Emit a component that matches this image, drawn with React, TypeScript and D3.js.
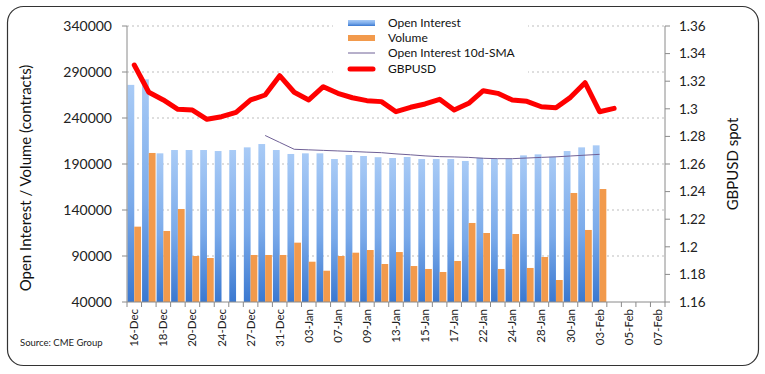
import React from 'react';
import * as d3 from 'd3';

// trading days shown on the category axis
const dates = [
  '16-Dec', '17-Dec', '18-Dec', '19-Dec', '20-Dec', '23-Dec', '24-Dec', '26-Dec', '27-Dec', '30-Dec',
  '31-Dec', '02-Jan', '03-Jan', '06-Jan', '07-Jan', '08-Jan', '09-Jan', '10-Jan', '13-Jan', '14-Jan',
  '15-Jan', '16-Jan', '17-Jan', '21-Jan', '22-Jan', '23-Jan', '24-Jan', '27-Jan', '28-Jan', '29-Jan',
  '30-Jan', '31-Jan', '03-Feb', '04-Feb', '05-Feb', '06-Feb', '07-Feb'
];

const openInterest = [
  276000, 282000, 201600, 205200, 205200, 205200, 204100, 205200, 208100, 211700,
  205200, 200900, 201600, 201600, 195400, 199800, 198700, 197400, 196500, 197600,
  195400, 195400, 195400, 193300, 196800, 195400, 195400, 199400, 200500, 197900,
  204100, 208100, 210300
];

const volume = [
  121900, 202000, 117200, 141100, 90000, 87800, 30000, 25000, 91100, 91100,
  91100, 104500, 83800, 74000, 90000, 93600, 96500, 81300, 94300, 79100,
  75900, 72600, 84600, 125900, 115000, 75900, 113900, 77000, 88900, 63900,
  158500, 118300, 162800
];

const oiSma: (number | null)[] = [
  null, null, null, null, null, null, null, null, null, 221000,
  213500, 206000, 205400, 204800, 204200, 203600, 202900, 202300, 201000, 200000,
  198800, 198000, 197700, 197200, 196200, 195800, 195800, 196500, 197200, 197800,
  198700, 199600, 200500
];

const gbpusd = [
  1.3317, 1.3120, 1.3064, 1.2996, 1.2991, 1.2924, 1.2943, 1.2974, 1.3064, 1.3100,
  1.3240, 1.3120, 1.3064, 1.3160, 1.3112, 1.3080, 1.3059, 1.3052, 1.2979, 1.3011,
  1.3035, 1.3069, 1.2991, 1.3040, 1.3131, 1.3112, 1.3064, 1.3054, 1.3015, 1.3008,
  1.3083, 1.3189, 1.2979, 1.3003
];

const leftTicks = [40000, 90000, 140000, 190000, 240000, 290000, 340000];
const rightTicks = [1.16, 1.18, 1.2, 1.22, 1.24, 1.26, 1.28, 1.3, 1.32, 1.34, 1.36];

const FONT = 'Lato, "Open Sans", sans-serif';

const plot = { left: 127, right: 665, top: 26, bottom: 302 };

const App: React.FC = () => {
  const x = d3.scaleBand<string>()
    .domain(dates)
    .range([plot.left, plot.right])
    .paddingInner(0.07)
    .paddingOuter(0.035);

  const yLeft = d3.scaleLinear().domain([40000, 340000]).range([plot.bottom, plot.top]);
  const yRight = d3.scaleLinear().domain([1.16, 1.36]).range([plot.bottom, plot.top]);

  const bw = x.bandwidth() / 2;
  const step = x.step();
  const center = (i: number) => (x(dates[i]) as number) + x.bandwidth() / 2;

  const smaLine = d3.line<number | null>()
    .defined(d => d != null)
    .x((_, i) => center(i))
    .y(d => yLeft(d as number));

  const fxLine = d3.line<number>()
    .x((_, i) => center(i))
    .y(d => yRight(d));

  const barH = (v: number) => Math.max(0, plot.bottom - yLeft(v));

  return (
    <div style={{ position: 'absolute', left: 0, top: 0 }}>
      <svg width={765} height={374} style={{ display: 'block', fontFamily: FONT }}>
        <defs>
          <linearGradient id="oiGrad" x1="0" y1="0" x2="0" y2="1">
            <stop offset="0%" stopColor="#a9cbf6" />
            <stop offset="55%" stopColor="#7aaaea" />
            <stop offset="100%" stopColor="#3a78d0" />
          </linearGradient>
          <clipPath id="plotClip">
            <rect x={plot.left} y={0} width={plot.right - plot.left} height={plot.bottom} />
          </clipPath>
        </defs>

        <rect x={7.5} y={6.5} width={751} height={359} rx={16} ry={16} fill="#fff" stroke="#333" strokeWidth={1.2} />

        {/* gridlines */}
        {leftTicks.slice(1).map(t => (
          <line key={'g' + t} x1={plot.left} x2={plot.right} y1={yLeft(t)} y2={yLeft(t)}
            stroke="#bdbdbd" strokeDasharray="2,3" strokeWidth={1} />
        ))}

        {/* bars */}
        <g clipPath="url(#plotClip)">
          {openInterest.map((v, i) => (
            <rect key={'oi' + i} x={x(dates[i])} y={yLeft(v)} width={bw} height={barH(v)} fill="url(#oiGrad)" />
          ))}
          {volume.map((v, i) => (
            <rect key={'vol' + i} x={(x(dates[i]) as number) + bw} y={yLeft(v)} width={bw} height={barH(v)} fill="#f29a4c" />
          ))}
        </g>

        {/* lines */}
        <path d={smaLine(oiSma) || ''} fill="none" stroke="#6f6096" strokeWidth={1} />
        <path d={fxLine(gbpusd) || ''} fill="none" stroke="#ff0000" strokeWidth={5} strokeLinejoin="round" strokeLinecap="round" />

        {/* left axis */}
        <line x1={plot.left} x2={plot.left} y1={plot.top} y2={plot.bottom} stroke="#8a8a8a" />
        {leftTicks.map(t => (
          <g key={'lt' + t}>
            <line x1={plot.left - 5} x2={plot.left} y1={yLeft(t)} y2={yLeft(t)} stroke="#8a8a8a" />
            <text x={112} y={yLeft(t)} dy="0.35em" textAnchor="end" fontSize={14} fill="#222">{t}</text>
          </g>
        ))}
        <text transform={`translate(31,178) rotate(-90)`} textAnchor="middle" fontSize={15} fill="#111">
          Open Interest / Volume (contracts)
        </text>

        {/* right axis */}
        <line x1={plot.right} x2={plot.right} y1={plot.top} y2={plot.bottom} stroke="#8a8a8a" />
        {rightTicks.map(t => (
          <g key={'rt' + t}>
            <line x1={plot.right} x2={plot.right + 5} y1={yRight(t)} y2={yRight(t)} stroke="#8a8a8a" />
            <text x={679} y={yRight(t)} dy="0.35em" fontSize={13.5} fill="#222">{String(+t.toFixed(2))}</text>
          </g>
        ))}
        <text transform={`translate(738,164) rotate(-90)`} textAnchor="middle" fontSize={15} fill="#111">
          GBPUSD spot
        </text>

        {/* category axis */}
        <line x1={plot.left} x2={plot.right} y1={plot.bottom} y2={plot.bottom} stroke="#8a8a8a" />
        {d3.range(dates.length + 1).map(i => {
          const xt = plot.left + x.paddingOuter() * step + i * step - x.paddingInner() * step / 2;
          const xx = Math.min(plot.right, Math.max(plot.left, xt));
          return <line key={'xt' + i} x1={xx} x2={xx} y1={plot.bottom} y2={plot.bottom + 5} stroke="#8a8a8a" />;
        })}
        {dates.map((d, i) => i % 2 === 0 ? (
          <text key={'xl' + d} transform={`translate(${center(i)},309) rotate(-90)`} dy="0.35em"
            textAnchor="end" fontSize={11.5} fill="#222">{d}</text>
        ) : null)}

        {/* legend */}
        <rect x={333} y={11} width={195} height={68} fill="#fff" />
        <rect x={348} y={20} width={27} height={6} fill="url(#oiGrad)" />
        <text x={388} y={23} dy="0.35em" fontSize={12} fill="#111">Open Interest</text>
        <rect x={348} y={35} width={27} height={6} fill="#f29a4c" />
        <text x={388} y={38} dy="0.35em" fontSize={12} fill="#111">Volume</text>
        <line x1={348} x2={375} y1={53} y2={53} stroke="#6f6096" strokeWidth={1} />
        <text x={388} y={53} dy="0.35em" fontSize={12} fill="#111">Open Interest 10d-SMA</text>
        <line x1={350} x2={373} y1={69} y2={69} stroke="#ff0000" strokeWidth={5} strokeLinecap="round" />
        <text x={388} y={69} dy="0.35em" fontSize={12} fill="#111">GBPUSD</text>

        <text x={20} y={346} fontSize={9.5} fill="#222">Source: CME Group</text>
      </svg>
    </div>
  );
};

export default App;
